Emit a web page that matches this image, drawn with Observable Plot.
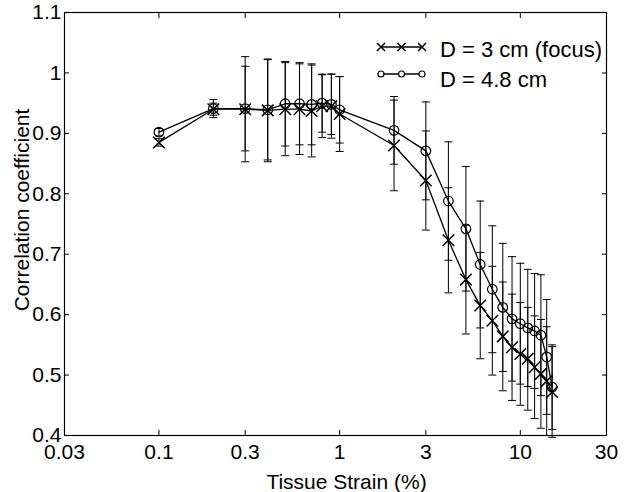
<!DOCTYPE html>
<html><head><meta charset="utf-8">
<script src="https://cdn.jsdelivr.net/npm/d3@7"></script>
<script src="https://cdn.jsdelivr.net/npm/@observablehq/plot@0.6"></script>
<style>
body{margin:0;background:#fff;}
#wrap{position:relative;width:632px;height:492px;}
</style>
</head><body><div id="wrap"></div>
<script>
const strain = [0.1,0.2,0.3,0.4,0.5,0.6,0.7,0.8,0.9,1,2,3,4,5,6,7,8,9,10,11,12,13,14,15];
const focusMean = [0.885,0.940,0.940,0.938,0.940,0.940,0.937,0.945,0.945,0.932,0.880,0.822,0.723,0.658,0.615,0.590,0.564,0.546,0.535,0.527,0.513,0.502,0.490,0.472];
const focusErr  = [0.006,0.010,0.087,0.085,0.077,0.075,0.076,0.052,0.053,0.062,0.075,0.082,0.087,0.090,0.088,0.090,0.090,0.088,0.085,0.085,0.085,0.090,0.090,0.075];
const farMean   = [0.902,0.941,0.941,0.939,0.949,0.949,0.948,0.950,0.948,0.939,0.905,0.871,0.788,0.742,0.683,0.642,0.612,0.593,0.585,0.578,0.573,0.566,0.530,0.480];
const farErr    = [0.006,0.015,0.070,0.083,0.070,0.068,0.067,0.048,0.050,0.055,0.056,0.081,0.098,0.103,0.105,0.105,0.106,0.103,0.100,0.097,0.095,0.100,0.095,0.070];
const seriesNames = ["D = 3 cm (focus)", "D = 4.8 cm"];
const xTicks = [0.03,0.1,0.3,1,3,10,30];
const yTicks = [0.4,0.5,0.6,0.7,0.8,0.9,1,1.1];
const xLabel = "Tissue Strain (%)";
const yLabel = "Correlation coefficient";

const rows = [];
strain.forEach((s,i)=>{
  rows.push({series:seriesNames[0], strain:s, v:focusMean[i], lo:focusMean[i]-focusErr[i], hi:focusMean[i]+focusErr[i]});
  rows.push({series:seriesNames[1], strain:s, v:farMean[i], lo:farMean[i]-farErr[i], hi:farMean[i]+farErr[i]});
});
const capSymbol = {draw(ctx,size){const r=Math.sqrt(size/Math.PI);ctx.moveTo(-r,0);ctx.lineTo(r,0);}};
const fmtY = d => String(+d.toFixed(1));

const chart = Plot.plot({
  width:632, height:492,
  marginLeft:64, marginRight:26, marginTop:12, marginBottom:57,
  style:{fontFamily:"'Liberation Sans', Arial, Helvetica, sans-serif", fontSize:"21px", color:"black", background:"white"},
  x:{type:"log", domain:[0.03,30]},
  y:{domain:[0.4,1.1]},
  marks:[
    Plot.ruleX(rows,{x:"strain", y1:"lo", y2:"hi", stroke:"black", strokeWidth:1}),
    Plot.dot(rows,{x:"strain", y:"lo", symbol:capSymbol, r:4, stroke:"black", strokeWidth:1}),
    Plot.dot(rows,{x:"strain", y:"hi", symbol:capSymbol, r:4, stroke:"black", strokeWidth:1}),
    Plot.line(rows,{x:"strain", y:"v", z:"series", stroke:"black", strokeWidth:1.3}),
    Plot.dot(rows.filter(d=>d.series===seriesNames[1]),{x:"strain", y:"v", symbol:"circle", r:4.8, stroke:"black", fill:"none", strokeWidth:1.2}),
    Plot.dot(rows.filter(d=>d.series===seriesNames[0]),{x:"strain", y:"v", symbol:"times", r:5.3, stroke:"black", strokeWidth:1.5}),
    Plot.frame({stroke:"black", strokeWidth:1.2}),
    Plot.axisX({anchor:"bottom", ticks:xTicks, tickFormat:d=>String(d), tickSize:-5, tickPadding:14, label:null}),
    Plot.axisX({anchor:"top", ticks:xTicks, tickFormat:()=>"", tickSize:-5, label:null}),
    Plot.axisY({anchor:"left", ticks:yTicks, tickFormat:fmtY, tickSize:-5, tickPadding:8, label:null}),
    Plot.axisY({anchor:"right", ticks:yTicks, tickFormat:()=>"", tickSize:-5, label:null}),
    Plot.text([xLabel],{frameAnchor:"bottom", text:d=>d, lineAnchor:"middle", textAnchor:"middle", dy:47, dx:11, fontSize:21}),
    Plot.text([yLabel],{frameAnchor:"left", text:d=>d, rotate:-90, lineAnchor:"middle", textAnchor:"middle", dx:-42, dy:-14, fontSize:21})
  ]
});
document.getElementById("wrap").appendChild(chart);

// legend inside the axes box
const svg = d3.select(chart);
const lg = svg.append("g").attr("fill","none").attr("stroke","black");
const legendRows = [{name:seriesNames[0], sym:"times", y:47, ty:57},{name:seriesNames[1], sym:"circle", y:74, ty:87}];
legendRows.forEach(r=>{
  lg.append("line").attr("x1",381).attr("x2",422).attr("y1",r.y).attr("y2",r.y).attr("stroke-width",1.3);
  [381,401.5,422].forEach(cx=>{
    if(r.sym==="times"){
      lg.append("path").attr("d",`M${cx-4},${r.y-4}L${cx+4},${r.y+4}M${cx-4},${r.y+4}L${cx+4},${r.y-4}`).attr("stroke-width",1.5);
    } else {
      lg.append("circle").attr("cx",cx).attr("cy",r.y).attr("r",3).attr("fill","white").attr("stroke-width",1.2);
    }
  });
  svg.append("text").attr("x",440).attr("y",r.ty).attr("fill","black").attr("text-anchor","start").attr("font-size",22).text(r.name);
});
</script>
</body></html>
